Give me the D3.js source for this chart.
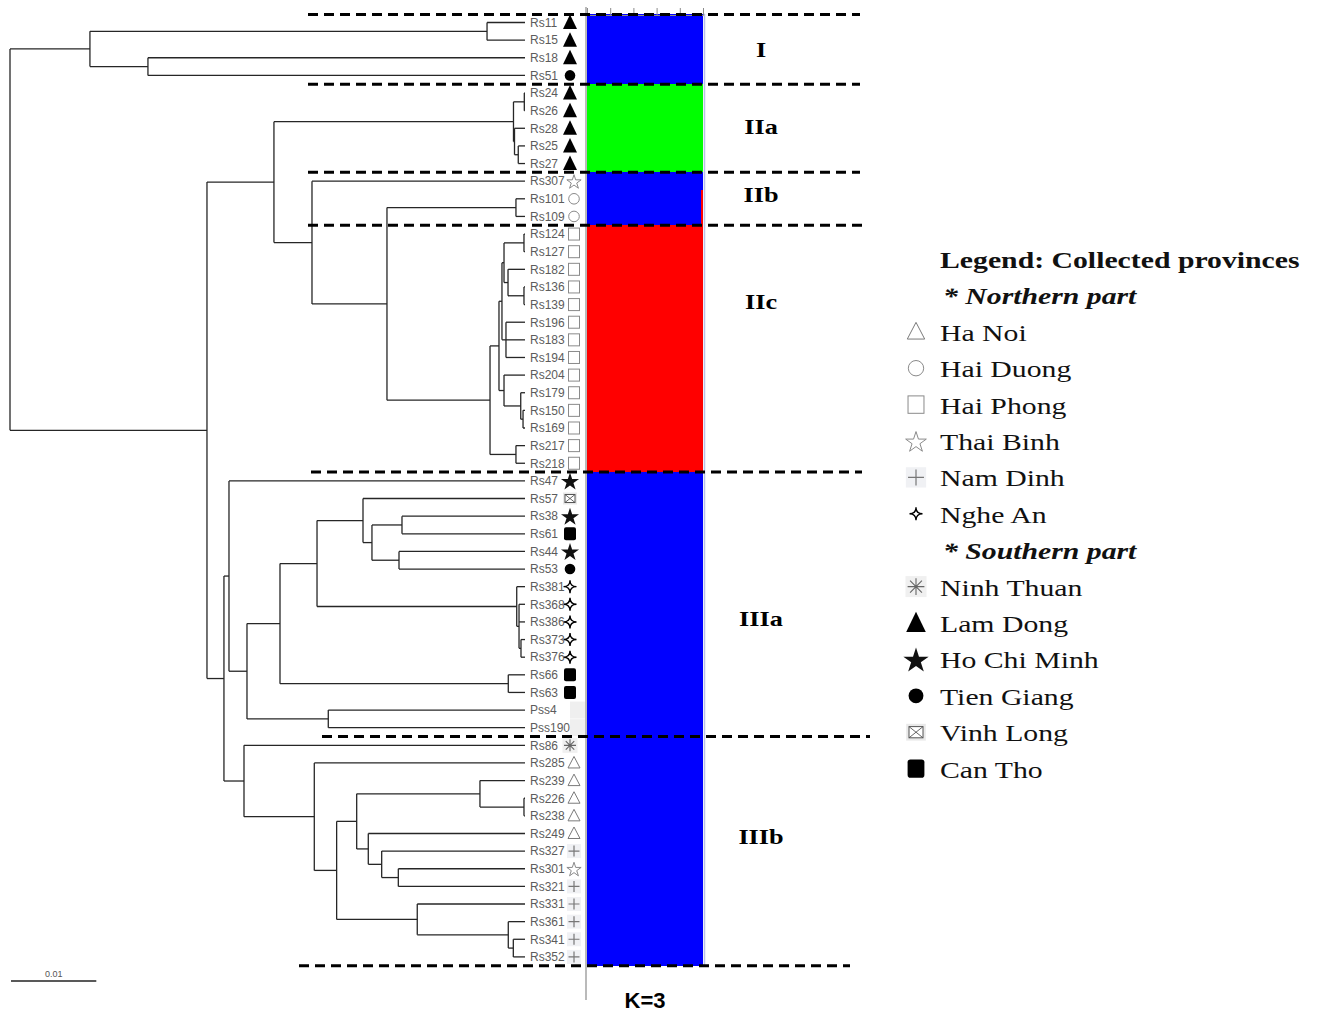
<!DOCTYPE html>
<html><head><meta charset="utf-8">
<script src="https://cdn.jsdelivr.net/npm/d3@7"></script>
<style>body{margin:0;background:#fff}svg{display:block}</style>
</head><body>
<svg id="chart" width="1322" height="1016"></svg>
<script>
// ---------------- DATA ----------------
// UPGMA tree; internal node labels = node height (substitutions/site)
const nwkI    = "((Rs11,Rs15)0.00445,(Rs18,Rs51)0.04420)0.05100";
const nwkIIa  = "((Rs24,Rs26)0.00008,(Rs28,(Rs25,Rs27)0.00079)0.00123)0.00135";
const nwkIIc  = "(((((Rs124,Rs127)0.00012,(Rs182,(Rs136,Rs139)0.00012)0.00199)0.00246,(Rs196,Rs183,Rs194)0.00223)0.00270,(Rs204,(Rs179,(Rs150,Rs169)0.00023)0.00050)0.00246)0.00305,(Rs217,Rs218)0.00106)0.00410";
const nwkIIbc = "(Rs307,((Rs101,Rs109)0.00106," + nwkIIc + ")0.01618)0.02497";
const nwkII   = "(" + nwkIIa + "," + nwkIIbc + ")0.02943";
const nwkIIIa = "(Rs47,((((Rs57,((Rs38,Rs61)0.01442,(Rs44,Rs53)0.01477)0.01794)0.01899,(Rs381,(Rs368,Rs386,(Rs373,Rs376)0.00047)0.00070)0.00097)0.02438,(Rs66,Rs63)0.00196)0.02872,(Pss4,Pss190)0.02306)0.03259)0.03470";
const nwkIIIb = "(Rs86,(Rs285,(((Rs239,(Rs226,Rs238)0.00012)0.00528,(Rs249,(Rs327,(Rs301,Rs321)0.01485)0.01680)0.01837)0.01973,(Rs331,(Rs361,(Rs341,Rs352)0.00137)0.00196)0.01263)0.02208)0.02470)0.03294";
const nwkIII  = "(" + nwkIIIa + "," + nwkIIIb + ")0.03529";
const treeNewick = "(" + nwkI + ",(" + nwkII + "," + nwkIII + ")0.03728)0.06037";

const leafNames = ["Rs11","Rs15","Rs18","Rs51","Rs24","Rs26","Rs28","Rs25","Rs27","Rs307","Rs101","Rs109",
  "Rs124","Rs127","Rs182","Rs136","Rs139","Rs196","Rs183","Rs194","Rs204","Rs179","Rs150","Rs169","Rs217","Rs218",
  "Rs47","Rs57","Rs38","Rs61","Rs44","Rs53","Rs381","Rs368","Rs386","Rs373","Rs376","Rs66","Rs63","Pss4","Pss190",
  "Rs86","Rs285","Rs239","Rs226","Rs238","Rs249","Rs327","Rs301","Rs321","Rs331","Rs361","Rs341","Rs352"];
const leafProvince = ["LD","LD","LD","TG","LD","LD","LD","LD","LD","TB","HD","HD",
  "HP","HP","HP","HP","HP","HP","HP","HP","HP","HP","HP","HP","HP","HP",
  "HCM","VL","HCM","CT","HCM","TG","NA","NA","NA","NA","NA","CT","CT","none","none",
  "NT","HN","HN","HN","HN","HN","ND","TB","ND","ND","ND","ND","ND"];
// STRUCTURE K=3 membership (blue, green, red)
const qBlue  = [1,1,1,1,0,0,0,0,0,1,0.98,0.98, 0,0,0,0,0,0,0,0,0,0,0,0,0,0, 1,1,1,1,1,1,1,1,1,1,1,1,1,1,1, 1,1,1,1,1,1,1,1,1,1,1,1,1];
const qGreen = [0,0,0,0,1,1,1,1,1,0,0,0, 0,0,0,0,0,0,0,0,0,0,0,0,0,0, 0,0,0,0,0,0,0,0,0,0,0,0,0,0,0, 0,0,0,0,0,0,0,0,0,0,0,0,0];
const qRed   = [0,0,0,0,0,0,0,0,0,0,0.02,0.02, 1,1,1,1,1,1,1,1,1,1,1,1,1,1, 0,0,0,0,0,0,0,0,0,0,0,0,0,0,0, 0,0,0,0,0,0,0,0,0,0,0,0,0];
const clusterNames = ["I","IIa","IIb","IIc","IIIa","IIIb"];
const clusterSizes = [4,5,3,14,15,13];
const northCodes = ["HN","HD","HP","TB","ND","NA"];
const northNames = ["Ha Noi","Hai Duong","Hai Phong","Thai Binh","Nam Dinh","Nghe An"];
const southCodes = ["NT","LD","HCM","TG","VL","CT"];
const southNames = ["Ninh Thuan","Lam Dong","Ho Chi Minh","Tien Giang","Vinh Long","Can Tho"];
const legendTitle = "Legend: Collected provinces";
const regionHeaders = ["* Northern part","* Southern part"];
const kLabel = "K=3";
const scaleBarValue = 0.01;

// ---------------- LAYOUT ----------------
const svg = d3.select("#chart");
const tipX = 525, rootX = 10;
const barX0 = 587, barX1 = 703;
const clusterLabelY = [50,127,195,302,619,837];
const dashStart = [308,308,308,308,311,322,299];
const dashEnd   = [860,860,860,862,862,870,850];

function parseNewick(str){
  let i = 0;
  function node(){
    if (str[i] === "("){
      i++;
      const children = [node()];
      while (str[i] === ","){ i++; children.push(node()); }
      i++;
      let lab = "";
      while (i < str.length && /[0-9.]/.test(str[i])) lab += str[i++];
      return {children, height: +lab};
    }
    let name = "";
    while (i < str.length && !/[,()]/.test(str[i])) name += str[i++];
    return {name, height: 0};
  }
  return node();
}
const root = d3.hierarchy(parseNewick(treeNewick));
const rootHeight = root.data.height;
const xScale = d3.scaleLinear().domain([0, rootHeight]).range([tipX, rootX]);
const yScale = d3.scalePoint().domain(leafNames).range([22.5, 956.9]);
const step = yScale.step();

root.eachAfter(n => {
  n.x = xScale(n.data.height);
  if (n.children) n.y = (n.children[0].y + n.children[n.children.length-1].y)/2;
  else n.y = yScale(n.data.name);
});

// ---------------- TREE ----------------
const gTree = svg.append("g").attr("stroke","#262626").attr("stroke-width",1.3).attr("fill","none");
root.each(n => {
  if (!n.children) return;
  const c0 = n.children[0], c1 = n.children[n.children.length-1];
  gTree.append("line").attr("x1",n.x).attr("x2",n.x).attr("y1",c0.y).attr("y2",c1.y);
  n.children.forEach(c => {
    gTree.append("line").attr("x1",n.x).attr("x2",c.x).attr("y1",c.y).attr("y2",c.y);
  });
});

// ---------------- SYMBOLS ----------------
const starPath = R => d3.symbol().type(d3.symbolStar).size(R*R/0.8908130915292852)();
function drawSym(g, code, s){
  switch(code){
    case "LD": g.append("path").attr("d",`M0,${-8*s}L${7*s},${6.5*s}L${-7*s},${6.5*s}Z`).attr("fill","#000"); break;
    case "HN": g.append("path").attr("d",`M0,${-6.5*s}L${6*s},${5*s}L${-6*s},${5*s}Z`).attr("fill","none").attr("stroke","#7a7a7a").attr("stroke-width",1); break;
    case "TG": g.append("circle").attr("r",5.3*s).attr("fill","#000"); break;
    case "HD": g.append("circle").attr("r",5.3*s).attr("fill","none").attr("stroke","#8a8a8a").attr("stroke-width",1); break;
    case "CT": g.append("rect").attr("x",-6*s).attr("y",-6.5*s).attr("width",12*s).attr("height",13*s).attr("rx",2*s).attr("fill","#000"); break;
    case "HP": g.append("rect").attr("x",-5.5*s).attr("y",-6*s).attr("width",11*s).attr("height",12*s).attr("fill","none").attr("stroke","#8a8a8a").attr("stroke-width",1); break;
    case "HCM": g.append("path").attr("d",starPath(9.5*s)).attr("transform",`translate(0,${1*s})`).attr("fill","#111"); break;
    case "TB": g.append("path").attr("d",starPath(7.5*s)).attr("transform",`translate(0,${1*s})`).attr("fill","none").attr("stroke","#8a8a8a").attr("stroke-width",1); break;
    case "ND":
      g.append("rect").attr("x",-7*s).attr("y",-7*s).attr("width",14*s).attr("height",14*s).attr("fill","#f0f1f4");
      g.append("path").attr("d",`M${-5.5*s},0H${5.5*s}M0,${-5.5*s}V${5.5*s}`).attr("stroke","#777").attr("stroke-width",1.2); break;
    case "NA": {
      const r = 6.5*s;
      g.append("path").attr("d",`M0,${-r}Q0,0 ${r},0Q0,0 0,${r}Q0,0 ${-r},0Q0,0 0,${-r}Z`)
        .attr("fill","#fff").attr("stroke","#000").attr("stroke-width",1.4); break; }
    case "NT": {
      const r = 6*s;
      g.append("rect").attr("x",-7.5*s).attr("y",-7.5*s).attr("width",15*s).attr("height",15*s).attr("fill","#f0f0f0");
      const a = r*0.707;
      g.append("path").attr("d",`M0,${-r}V${r}M${-r},0H${r}M${-a},${-a}L${a},${a}M${-a},${a}L${a},${-a}`)
        .attr("stroke","#666").attr("stroke-width",1.1); break; }
    case "VL":
      g.append("rect").attr("x",-7*s).attr("y",-6*s).attr("width",14*s).attr("height",12*s).attr("fill","#e9e9e9");
      g.append("rect").attr("x",-5*s).attr("y",-4*s).attr("width",10*s).attr("height",8*s).attr("fill","#fff").attr("stroke","#555").attr("stroke-width",1);
      g.append("path").attr("d",`M${-5*s},${-4*s}L${5*s},${4*s}M${-5*s},${4*s}L${5*s},${-4*s}`).attr("stroke","#555").attr("stroke-width",0.9); break;
    case "none":
      g.append("rect").attr("x",0).attr("y",-8.5).attr("width",15).attr("height",17).attr("fill","#efefef"); break;
  }
}
const openCodes = new Set(["HN","HD","HP","TB","ND"]);
const gSym = svg.append("g");
root.leaves().forEach(d => {
  const code = leafProvince[leafNames.indexOf(d.data.name)];
  const sx = openCodes.has(code) ? 574 : 570;
  drawSym(gSym.append("g").attr("transform",`translate(${sx},${d.y})`), code, 1);
});

// leaf labels
svg.append("g").selectAll("text").data(root.leaves()).join("text")
  .attr("x", tipX + 5).attr("y", d => d.y + 4.3)
  .attr("font-family","'Liberation Sans', Arial, sans-serif").attr("font-size",12)
  .attr("fill","#5c5c5c").text(d => d.data.name);

// ---------------- STRUCTURE BAR ----------------
const barScale = d3.scaleLinear().domain([0,1]).range([barX0, barX1]);
const barColors = ["#0000ff","#00ff00","#ff0000"];
const gBar = svg.append("g").attr("shape-rendering","crispEdges");
leafNames.forEach((name, i) => {
  const y = yScale(name);
  const q = [qBlue[i], qGreen[i], qRed[i]];
  let acc = 0;
  q.forEach((v, k) => {
    if (v <= 0) return;
    gBar.append("rect").attr("x", barScale(acc)).attr("width", barScale(acc+v)-barScale(acc))
      .attr("y", y - step/2).attr("height", step + 0.6).attr("fill", barColors[k]);
    acc += v;
  });
});
svg.append("line").attr("x1",barX1+1.5).attr("x2",barX1+1.5).attr("y1",yScale(leafNames[0])-step/2).attr("y2",yScale(leafNames[leafNames.length-1])+step/2)
  .attr("stroke","#b8c0e8").attr("stroke-width",1.5);
// axis
svg.append("line").attr("x1",barX0-1).attr("x2",barX0-1).attr("y1",7).attr("y2",1000).attr("stroke","#8c8c8c").attr("stroke-width",1.2);
const axisG = svg.append("g").attr("transform","translate(0,15)")
  .call(d3.axisTop(barScale).ticks(5).tickSize(7).tickFormat(""));
axisG.selectAll("line,path").attr("stroke","#8c8c8c");

// ---------------- DASHED CLUSTER LINES ----------------
const bounds = [];
let cum = 0;
bounds.push(yScale(leafNames[0]) - step/2 + 0.8);
clusterSizes.forEach(n => {
  cum += n;
  if (cum < leafNames.length) bounds.push((yScale(leafNames[cum-1]) + yScale(leafNames[cum]))/2);
  else bounds.push(yScale(leafNames[cum-1]) + step/2);
});
svg.append("g").selectAll("line").data(bounds).join("line")
  .attr("x1",(d,i)=>dashStart[i]).attr("x2",(d,i)=>dashEnd[i])
  .attr("y1",d=>d).attr("y2",d=>d)
  .attr("stroke","#000").attr("stroke-width",3).attr("stroke-dasharray","10,6");

// cluster labels
svg.append("g").selectAll("text").data(clusterNames).join("text")
  .attr("transform",(d,i)=>`translate(761,${clusterLabelY[i]+7}) scale(1.25,1)`)
  .attr("text-anchor","middle")
  .attr("font-family","'Liberation Serif','Times New Roman',serif").attr("font-weight","bold").attr("font-size",21)
  .attr("fill","#000").text(d=>d);

// K label
svg.append("text").attr("x",645).attr("y",1008).attr("text-anchor","middle")
  .attr("font-family","'Liberation Sans',Arial,sans-serif").attr("font-weight","bold").attr("font-size",22)
  .attr("fill","#000").text(kLabel);

// scale bar
const sbLen = xScale(0) - xScale(scaleBarValue);
svg.append("line").attr("x1",11).attr("x2",11+sbLen).attr("y1",981).attr("y2",981).attr("stroke","#222").attr("stroke-width",1.3);
svg.append("text").attr("x",11+sbLen/2).attr("y",977).attr("text-anchor","middle")
  .attr("font-family","'Liberation Sans',Arial,sans-serif").attr("font-size",9).attr("fill","#555").text(scaleBarValue);

// ---------------- LEGEND ----------------
const lg = svg.append("g");
const rowY = k => 268 + 36.4*k;
const serif = "'Liberation Serif','Times New Roman',serif";
function ltext(x, y, txt, weight, style){
  lg.append("text").attr("transform",`translate(${x},${y}) scale(1.24,1)`)
    .attr("font-family",serif).attr("font-size",24).attr("font-weight",weight||"normal")
    .attr("font-style",style||"normal").attr("fill","#111").text(txt);
}
ltext(940, rowY(0), legendTitle, "bold");
ltext(943, rowY(1), regionHeaders[0], "bold", "italic");
northNames.forEach((n,k) => {
  ltext(940, rowY(2+k), n);
  const s = northCodes[k] === "NA" ? 1.0 : 1.45;
  drawSym(lg.append("g").attr("transform",`translate(916,${rowY(2+k)-9})`), northCodes[k], s);
});
ltext(943, rowY(8), regionHeaders[1], "bold", "italic");
southNames.forEach((n,k) => {
  ltext(940, rowY(9+k), n);
  drawSym(lg.append("g").attr("transform",`translate(916,${rowY(9+k)-9})`), southCodes[k], 1.4);
});
</script>
</body></html>
